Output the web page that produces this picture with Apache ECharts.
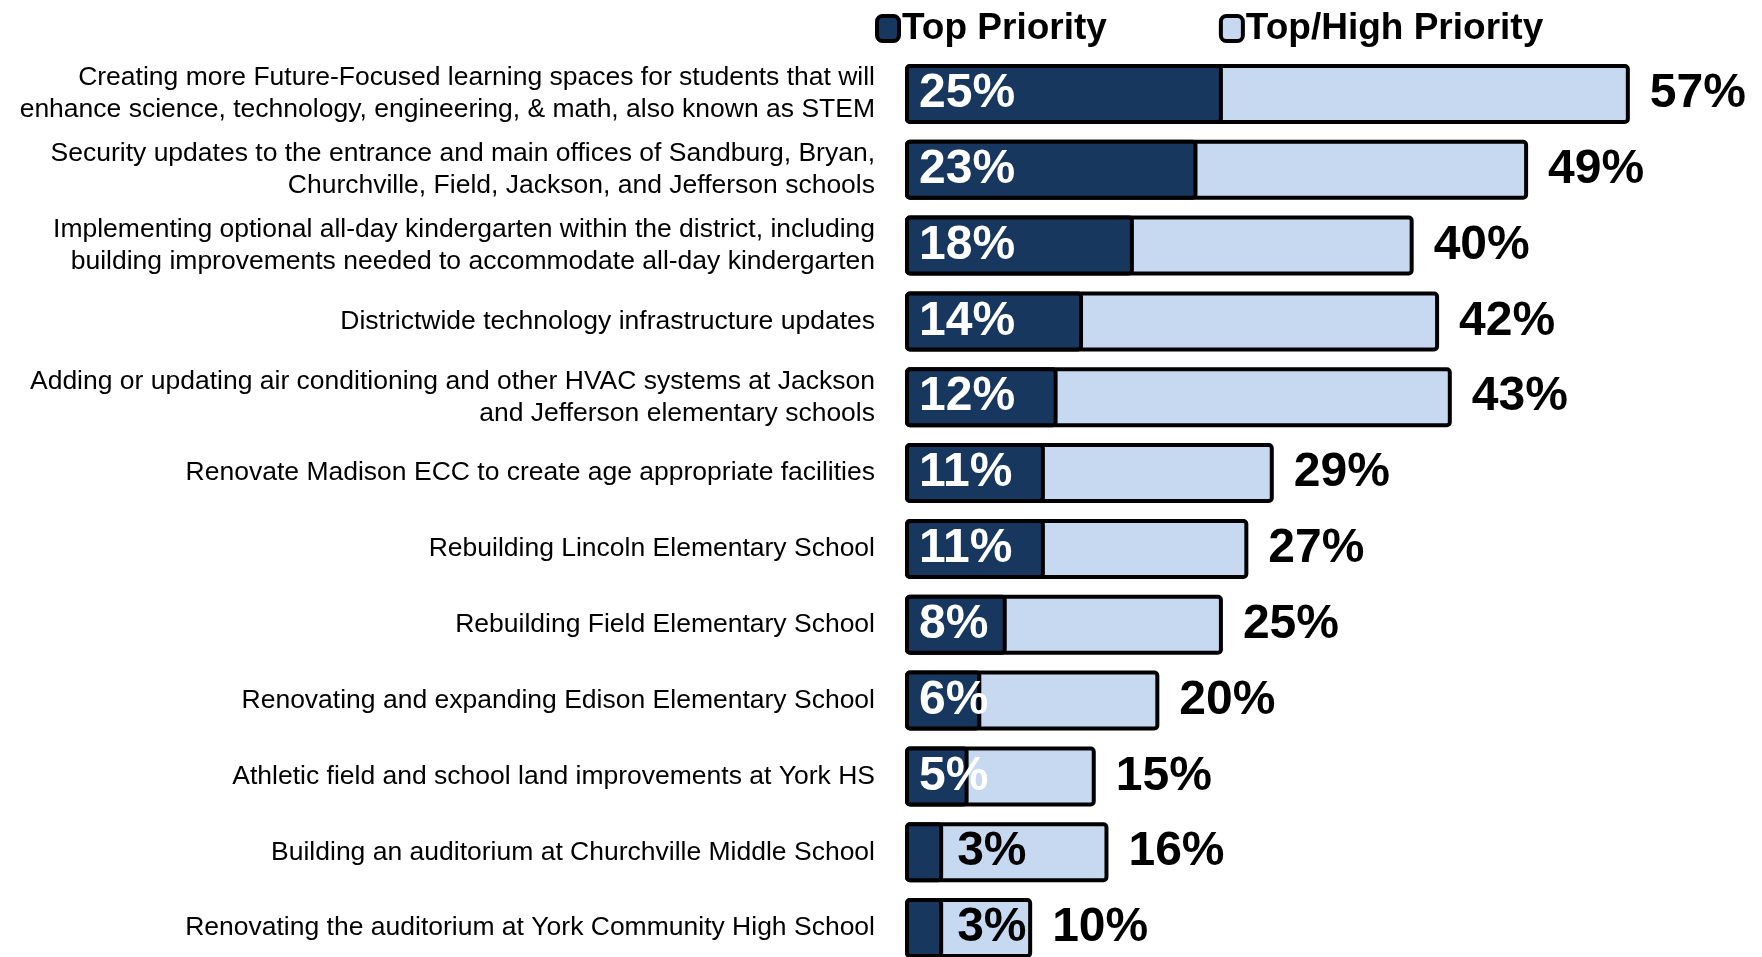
<!DOCTYPE html>
<html>
<head>
<meta charset="utf-8">
<script src="https://cdn.jsdelivr.net/npm/echarts@6/dist/echarts.min.js"></script>
<style>
	html, body { margin: 0; padding: 0; background: #fff; }
	#chart { width: 1762px; height: 957px; }
</style>
</head>
<body>
<div id="chart"></div>
<script>
var categories = [
	'Creating more Future-Focused learning spaces for students that will\nenhance science, technology, engineering, & math, also known as STEM',
	'Security updates to the entrance and main offices of Sandburg, Bryan,\nChurchville, Field, Jackson, and Jefferson schools',
	'Implementing optional all-day kindergarten within the district, including\nbuilding improvements needed to accommodate all-day kindergarten',
	'Districtwide technology infrastructure updates',
	'Adding or updating air conditioning and other HVAC systems at Jackson\nand Jefferson elementary schools',
	'Renovate Madison ECC to create age appropriate facilities',
	'Rebuilding Lincoln Elementary School',
	'Rebuilding Field Elementary School',
	'Renovating and expanding Edison Elementary School',
	'Athletic field and school land improvements at York HS',
	'Building an auditorium at Churchville Middle School',
	'Renovating the auditorium at York Community High School'
];
var topPriority = [25, 23, 18, 14, 12, 11, 11, 8, 6, 5, 3, 3];
var topHighPriority = [57, 49, 40, 42, 43, 29, 27, 25, 20, 15, 16, 10];

var FONT = '"Liberation Sans", Arial, sans-serif';
var DARK = '#17375e';
var LIGHT = '#c6d9f1';

// small top values don't fit inside the dark bar, put them after it in black
var topData = topPriority.map(function(v) {
	if (v <= 3) {
		return {
			value : v,
			label : {
				position : 'right',
				color : '#000',
				distance : 14
			}
		};
	}
	return v;
});

var chart = echarts.init(document.getElementById('chart'));
var option = {
	animation : false,
	textStyle : {
		fontFamily : FONT
	},
	legend : {
		data : [ 'Top Priority', 'Top/High Priority' ],
		left : 870,
		top : 5,
		itemWidth : 22,
		itemHeight : 25,
		itemGap : 112,
		itemStyle : {
			borderColor : '#000',
			borderWidth : 4
		},
		textStyle : {
			fontFamily : FONT,
			fontSize : 37,
			fontWeight : 'bold',
			color : '#000',
			padding : [ 0, 0, 0, -2 ]
		}
	},
	grid : {
		left : 905,
		top : 56,
		width : 852,
		height : 910,
		outerBoundsMode : 'none'
	},
	xAxis : {
		type : 'value',
		min : 0,
		max : 67,
		show : false
	},
	yAxis : {
		type : 'category',
		inverse : true,
		data : categories,
		axisLine : { show : false },
		axisTick : { show : false },
		splitLine : { show : false },
		axisLabel : {
			fontFamily : FONT,
			fontSize : 26.5,
			lineHeight : 32,
			color : '#000',
			margin : 30,
			align : 'right',
			padding : [ 6, 0, 0, 0 ]
		}
	},
	series : [ {
		name : 'Top/High Priority',
		type : 'bar',
		data : topHighPriority,
		barWidth : 60,
		itemStyle : {
			color : LIGHT,
			borderColor : '#000',
			borderWidth : 4,
			borderRadius : 3
		},
		label : {
			show : true,
			position : 'right',
			distance : 20,
			formatter : '{c}%',
			fontFamily : FONT,
			fontSize : 48,
			fontWeight : 'bold',
			color : '#000'
		},
		z : 1
	}, {
		name : 'Top Priority',
		type : 'bar',
		data : topData,
		barWidth : 60,
		barGap : '-100%',
		itemStyle : {
			color : DARK,
			borderColor : '#000',
			borderWidth : 4,
			borderRadius : 3
		},
		label : {
			show : true,
			position : 'insideLeft',
			distance : 14,
			formatter : '{c}%',
			fontFamily : FONT,
			fontSize : 48,
			fontWeight : 'bold',
			color : '#fff'
		},
		z : 2
	} ]
};
chart.setOption(option);
</script>
</body>
</html>
